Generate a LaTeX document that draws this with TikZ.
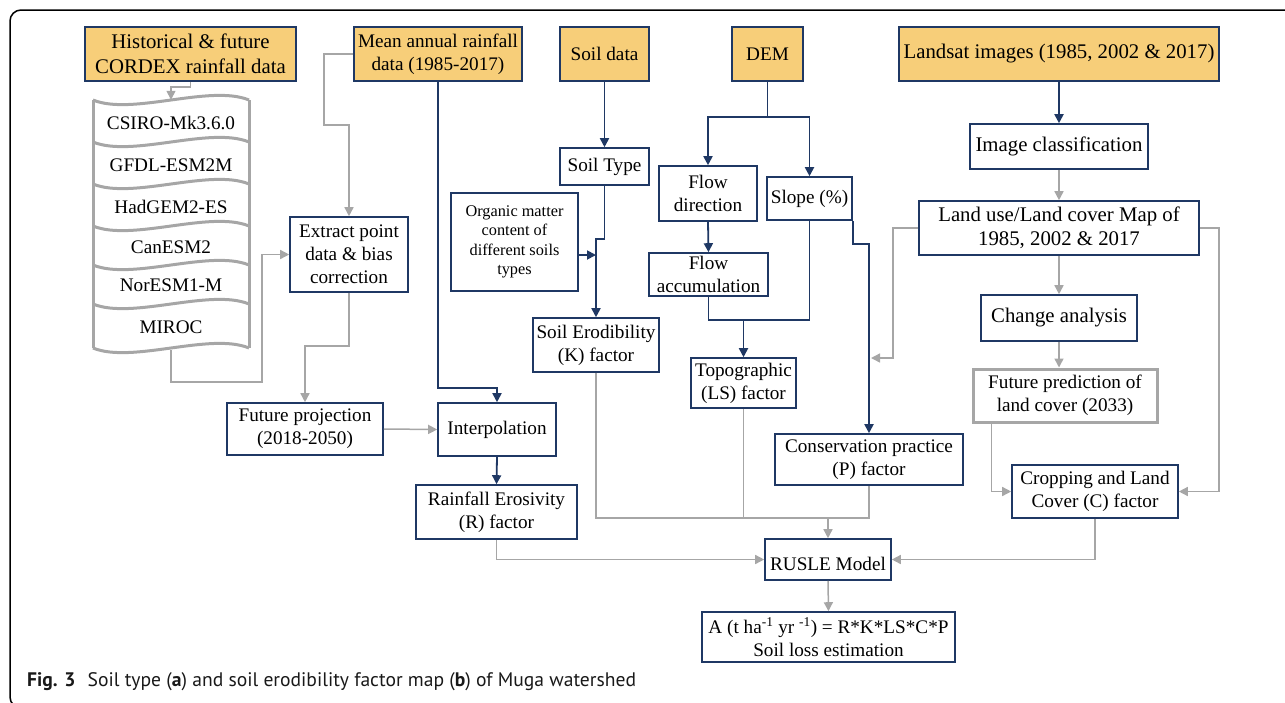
\documentclass[tikz,border=0pt]{standalone}
\usepackage{fontspec}
\setmainfont{Liberation Serif}
\newfontfamily\capfont{PT Sans}
\usetikzlibrary{arrows.meta,calc}
\definecolor{navy}{RGB}{31,56,100}
\definecolor{ora}{RGB}{247,206,121}
\definecolor{gr}{RGB}{166,166,166}
\tikzset{
 box/.style={draw=navy, line width=1.6pt, fill=white, inner sep=0pt, align=center, font=\fontsize{19.2pt}{23pt}\selectfont},
 big/.style={font=\fontsize{20.8pt}{24.5pt}\selectfont},
 src/.style={box, fill=ora},
 sz/.style 2 args={minimum width=#1pt, minimum height=#2pt},
 narr/.style={draw=navy, line width=1.8pt, -{Triangle[length=9pt,width=9pt]}},
 nline/.style={draw=navy, line width=1.8pt},
 garr/.style={draw=gr, line width=1.5pt, -{Triangle[length=9pt,width=9pt]}},
 gline/.style={draw=gr, line width=1.5pt},
 stk/.style={draw=gr, line width=3pt},
 stxt/.style={font=\fontsize{19.2pt}{23pt}\selectfont, inner sep=0pt},
}
\begin{document}
\begin{tikzpicture}[x=1pt,y=-1pt]
\useasboundingbox (0,0) rectangle (1285,702);
% frame
\draw[line width=1.5pt, black, rounded corners=11pt] (1300,10) -- (10,10) -- (10,708) -- (40,708);

% source boxes
\node[src,big,sz={211}{54}] (hist) at (190.5,54) {Historical \& future\\CORDEX rainfall data};
\node[src,sz={168}{54}] (mean) at (438,54) {Mean annual rainfall\\data (1985-2017)};
\node[src,sz={89}{54}] (soil) at (604.5,54) {Soil data};
\node[src,sz={71}{54}] (dem) at (767.5,54) {DEM};
\node[src,big,sz={320}{54}] (landsat) at (1059,54) {Landsat images (1985, 2002 \& 2017)};

% right column
\node[box,big,sz={178}{45}] (imgc) at (1059,146.5) {Image classification};
\node[box,big,sz={280}{54}] (lulc) at (1059,228) {Land use/Land cover Map of\\1985, 2002 \& 2017};
\node[box,big,sz={156}{46}] (change) at (1059,318) {Change analysis};
\node[box,draw=gr,line width=3pt,sz={184}{53}] (fpred) at (1065,395.5) {Future prediction of\\land cover (2033)};
\node[box,sz={166}{53}] (crop) at (1095,491.5) {Cropping and Land\\Cover (C) factor};

% soil
\node[box,sz={89}{37}] (stype) at (604.5,166.5) {Soil Type};
\node[box,sz={127}{98},font=\fontsize{16.3pt}{19.5pt}\selectfont] (org) at (514.5,242) {Organic matter\\content of\\different soils\\types};
\node[box,sz={126}{54}] (kf) at (596,345) {Soil Erodibility\\(K) factor};

% DEM
\node[box,sz={98}{55}] (fdir) at (708,193.5) {Flow\\direction};
\node[box,sz={85}{43}] (slope) at (809.5,198.5) {Slope (\%)};
\node[box,sz={119}{43}] (facc) at (708.5,274.5) {Flow\\accumulation};
\node[box,sz={105}{50}] (ls) at (743.5,383) {Topographic\\(LS) factor};
\node[box,sz={188}{51}] (pf) at (869,459.5) {Conservation practice\\(P) factor};

% rainfall
\node[box,sz={118}{75}] (extr) at (349,254.5) {Extract point\\data \& bias\\correction};
\node[box,sz={156}{52}] (fproj) at (305,429) {Future projection\\(2018-2050)};
\node[box,sz={118}{53}] (interp) at (497,429.5) {Interpolation};
\node[box,sz={161}{54}] (rf) at (496.5,512) {Rainfall Erosivity\\(R) factor};

% model
\node[box,sz={126}{41}] (rusle) at (828,559.5) {\raisebox{-6pt}[14pt][4pt]{RUSLE Model}};
\node[box,sz={253}{50}] (form) at (828.5,637) {A (t ha\textsuperscript{-1} yr \textsuperscript{-1}) = R*K*LS*C*P\\Soil loss estimation};

% stacked documents
\node[minimum width=156pt, minimum height=250pt, inner sep=0pt] (stack) at (171,225) {};
\draw[stk] (93,100) -- (93,348);
\draw[stk] (249,100) -- (249,348);
\foreach \yy in {100,142,184,226,265,304,348}{
  \draw[stk] (93,\yy) .. controls (132,\yy+16) and (210,\yy-16) .. (249,\yy);
}
\node[stxt] (m1) at (171,123) {CSIRO-Mk3.6.0};
\node[stxt] (m2) at (171,165) {GFDL-ESM2M};
\node[stxt] (m3) at (171,207) {HadGEM2-ES};
\node[stxt] (m4) at (171,247) {CanESM2};
\node[stxt] (m5) at (171,285) {NorESM1-M};
\node[stxt] (m6) at (171,327) {MIROC};

% connectors: rainfall
\draw[garr] (hist.south) -- ++(0,5) -| (stack.north);
\draw[garr] (stack.south) -- ++(0,32) -| ($(extr.west)+(-27,0)$) -- (extr.west);
\draw[garr] (mean.west) -- ++(-29,0) |- ($(extr.north)+(0,-91)$) -- (extr.north);
\draw[garr] (extr.south) -- ++(0,53) -| (fproj.north);
\draw[garr] (fproj.east) -- (interp.west);
\draw[narr] (mean.south) |- ($(interp.north)+(0,-14)$) -- (interp.north);
\draw[narr] (interp.south) -- (rf.north);

% soil
\draw[narr] (soil.south) -- (stype.north);
\draw[narr] (stype.south) -- ++(0,53) -| (kf.north);
\coordinate (kj) at (596,255);
\draw[narr] (org.east |- kj) -- (kj);

% DEM
\draw[nline] (dem.south) -- ++(0,35) coordinate (dj);
\draw[narr] (dj) -| (fdir.north);
\draw[narr] (dj) -| (slope.north);
\draw[narr] (fdir.south) -- (facc.north);
\coordinate (lsj) at (743.5,320);
\draw[narr] (facc.south) |- (lsj) -- (ls.north);
\draw[nline] (slope.south) |- (lsj);
\draw[narr] (slope.south east) -- ++(0,23) -| (pf.north);

% landsat
\draw[narr] (landsat.south) -- (landsat.south |- imgc.north);
\draw[garr] (imgc.south) -- (imgc.south |- lulc.north);
\draw[garr] (lulc.south) -- (change.north);
\draw[garr] (change.south) -- (change.south |- fpred.north);
\coordinate (pj) at (871,358);
\draw[garr] (lulc.west) -- ++(-25,0) |- (pj);
\draw[garr] (lulc.east) -- ++(19,0) |- (crop.east);
\draw[garr] ($(fpred.south west)+(20,0)$) |- (crop.west);

% to RUSLE
\coordinate (rj) at (828,518);
\draw[gline] (kf.south) |- (rj) -- (rj -| pf.south) -- (pf.south);
\draw[gline] (ls.south) -- (ls.south |- rj);
\draw[garr] (rj) -- (rusle.north);
\draw[garr] (rf.south) |- (rusle.west);
\draw[garr] (crop.south) |- (rusle.east);
\draw[garr] (rusle.south) -- (form.north);

% caption
\node[anchor=west, inner sep=0pt, font=\capfont\fontsize{19.6pt}{23pt}\selectfont, text=black!90] (cap) at (27,682) {\textbf{Fig. 3}\hspace{7pt} Soil type (\textbf{a}) and soil erodibility factor map (\textbf{b}) of Muga watershed};
\end{tikzpicture}
\end{document}
